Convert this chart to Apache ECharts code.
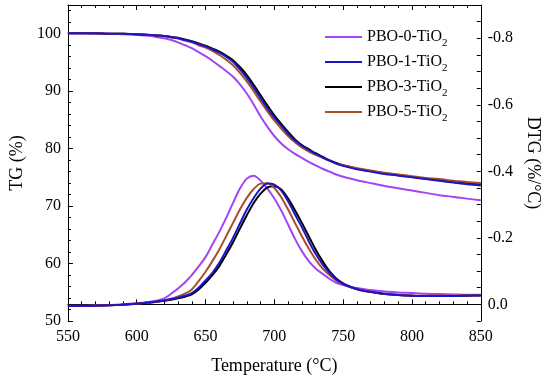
<!DOCTYPE html>
<html>
<head>
<meta charset="utf-8">
<script src="https://cdn.jsdelivr.net/npm/echarts@6/dist/echarts.min.js"></script>
<style>html,body{margin:0;padding:0;background:#fff}#c{width:550px;height:380px}</style>
</head>
<body>
<div id="c"></div>
<script>
var temps = [550,560,570,580,590,600,605,610,615,620,625,630,635,640,645,650,655,660,665,670,675,680,685,690,695,700,705,710,715,720,725,730,735,740,745,750,755,760,765,770,775,780,790,800,810,820,830,840,850];

var tg0 = [100.1,100.1,100.0,100.0,99.9, 99.8,99.7,99.6,99.4,99.2,98.9,98.5, 98.0,97.5,96.8,96.1,95.3,94.4,93.5,92.5,91.2,89.6,87.7,85.6,83.8,82.2,80.9,79.9,79.1,78.4,77.7,77.1,76.5,76.0,75.5, 75.1,74.8,74.5,74.25,74.0,73.75,73.5, 73.1,72.7,72.3,71.9,71.6,71.3,71.0];
var tg1 = [100.1,100.1,100.1,100.0,100.0, 99.9,99.85,99.8,99.7,99.6,99.4,99.2, 98.9,98.6,98.2,97.8,97.3,96.7,96.0,95.1,93.8,92.3,90.6,88.8,87.0,85.4,84.0,82.6,81.4,80.5,79.8,79.1,78.5,77.9,77.4, 77.0,76.7,76.4,76.2,76.0,75.8,75.6, 75.3,75.0,74.7,74.4,74.1,73.8,73.6];
var tg3 = [100.1,100.1,100.1,100.0,100.0, 99.9,99.85,99.8,99.7,99.6,99.45,99.3, 99.0,98.7,98.3,97.9,97.4,96.9,96.2,95.4,94.2,92.8,91.1,89.3,87.5,85.8,84.3,82.9,81.6,80.6,79.9,79.2,78.6,78.0,77.5, 77.1,76.8,76.5,76.3,76.1,75.9,75.7, 75.4,75.1,74.8,74.5,74.2,74.0,73.8];
var tg5 = [100.1,100.1,100.1,100.0,100.0, 99.9,99.85,99.8,99.7,99.6,99.4,99.2, 98.8,98.5,98.0,97.6,97.0,96.3,95.5,94.5,93.2,91.7,90.0,88.2,86.5,84.9,83.5,82.2,81.1,80.2,79.5,78.9,78.4,77.9,77.4, 77.1,76.85,76.6,76.4,76.2,76.0,75.8, 75.5,75.2,74.9,74.7,74.4,74.2,74.0];

var dtg0 = [0.004,0.004,0.003,0.002,0.000, -0.003,-0.005,-0.008,-0.012,-0.018,-0.032,-0.048, -0.066,-0.088,-0.114,-0.142,-0.18,-0.218,-0.26,-0.305,-0.348,-0.378,-0.387,-0.372,-0.348,-0.318,-0.282,-0.24,-0.197,-0.16,-0.13,-0.108,-0.092,-0.077,-0.065, -0.058,-0.053,-0.049,-0.046,-0.043,-0.041,-0.039, -0.036,-0.034,-0.032,-0.031,-0.03,-0.029,-0.029];
var dtg1 = [0.005,0.005,0.004,0.003,0.001, -0.002,-0.004,-0.006,-0.009,-0.012,-0.016,-0.02, -0.026,-0.034,-0.05,-0.072,-0.095,-0.125,-0.162,-0.2,-0.243,-0.285,-0.32,-0.348,-0.363,-0.36,-0.342,-0.31,-0.27,-0.232,-0.19,-0.152,-0.12,-0.095,-0.075, -0.062,-0.053,-0.046,-0.041,-0.038,-0.035,-0.032, -0.028,-0.026,-0.025,-0.025,-0.025,-0.026,-0.027];
var dtg3 = [0.005,0.005,0.004,0.003,0.001, -0.002,-0.004,-0.006,-0.008,-0.011,-0.014,-0.018, -0.023,-0.03,-0.045,-0.065,-0.088,-0.115,-0.15,-0.187,-0.228,-0.268,-0.305,-0.333,-0.352,-0.355,-0.345,-0.318,-0.283,-0.245,-0.205,-0.165,-0.13,-0.1,-0.078, -0.063,-0.053,-0.045,-0.040,-0.037,-0.034,-0.031, -0.028,-0.026,-0.025,-0.025,-0.025,-0.026,-0.027];
var dtg5 = [0.005,0.005,0.004,0.003,0.001, -0.002,-0.004,-0.006,-0.009,-0.012,-0.017,-0.024, -0.032,-0.045,-0.07,-0.098,-0.13,-0.165,-0.205,-0.245,-0.285,-0.32,-0.347,-0.363,-0.364,-0.35,-0.322,-0.285,-0.245,-0.205,-0.168,-0.135,-0.108,-0.088,-0.072, -0.06,-0.052,-0.046,-0.041,-0.038,-0.035,-0.032, -0.029,-0.027,-0.026,-0.026,-0.026,-0.027,-0.028];

var names = ['PBO-0-TiO2','PBO-1-TiO2','PBO-3-TiO2','PBO-5-TiO2'];
var colors = ['#a445f5','#1c14c8','#000000','#a8502c'];
var xTicks = [550,600,650,700,750,800,850];
var dtgLabels = [-0.8,-0.6,-0.4,-0.2,0];

function pairs(y){ return temps.map(function(t,i){ return [t,y[i]]; }); }
var FONT = 'Liberation Serif';
var tgData = [tg0,tg1,tg3,tg5];
var dtgData = [dtg0,dtg1,dtg3,dtg5];
var order = [0,2,3,1];
var series = [];
order.forEach(function(k){
  series.push({name:names[k],type:'line',xAxisIndex:0,yAxisIndex:0,data:pairs(tgData[k]),smooth:0.3,symbol:'none',lineStyle:{color:colors[k],width:2},itemStyle:{color:colors[k]},z:2});
  series.push({name:names[k],type:'line',xAxisIndex:0,yAxisIndex:1,data:pairs(dtgData[k]),smooth:0.3,symbol:'none',lineStyle:{color:colors[k],width:2},itemStyle:{color:colors[k]},z:2});
});

var axisCommon = {
  axisLine:{show:true,lineStyle:{color:'#000',width:1}},
  splitLine:{show:false}
};
var chart = echarts.init(document.getElementById('c'),null,{renderer:'canvas'});
chart.setOption({
  animation:false,
  backgroundColor:'#fff',
  grid:{left:57,right:66,top:5,bottom:58,containLabel:false},
  legend:{
    orient:'vertical',left:320,top:24,
    data:names,
    icon:'rect',
    itemWidth:37,itemHeight:2,itemGap:5,
    formatter:function(n){ return '{n|'+n.replace('TiO2','TiO')+'}{s|2}'; },
    textStyle:{fontFamily:FONT,fontSize:16,color:'#000',
      rich:{n:{fontFamily:FONT,fontSize:16,color:'#000',lineHeight:24,verticalAlign:'middle'},
            s:{fontFamily:FONT,fontSize:11,color:'#000',lineHeight:7,verticalAlign:'bottom'}}}
  },
  xAxis:[
    Object.assign({},axisCommon,{type:'value',position:'bottom',min:550,max:850,interval:50,
      name:'Temperature (°C)',nameLocation:'middle',nameGap:36,
      nameTextStyle:{fontFamily:FONT,fontSize:18,color:'#000'},
      axisTick:{show:true,inside:true,length:5,lineStyle:{color:'#000'}},
      minorTick:{show:true,splitNumber:5,length:3,lineStyle:{color:'#000'}},
      axisLabel:{fontFamily:FONT,fontSize:16,color:'#000',margin:8,customValues:xTicks}}),
    Object.assign({},axisCommon,{type:'value',position:'top',min:550,max:850,interval:50,
      axisTick:{show:true,inside:true,length:5,lineStyle:{color:'#000'}},
      minorTick:{show:true,splitNumber:5,length:3,lineStyle:{color:'#000'}},
      axisLabel:{show:false}})
  ],
  yAxis:[
    Object.assign({},axisCommon,{type:'value',position:'left',min:50,max:105,interval:10,
      name:'TG (%)',nameLocation:'middle',nameGap:37,nameRotate:90,
      nameTextStyle:{fontFamily:FONT,fontSize:18,color:'#000'},
      axisTick:{show:true,inside:true,length:5,lineStyle:{color:'#000'}},
      minorTick:{show:true,splitNumber:5,length:3,lineStyle:{color:'#000'}},
      axisLabel:{fontFamily:FONT,fontSize:16,color:'#000',margin:7,showMaxLabel:false}}),
    Object.assign({},axisCommon,{type:'value',position:'right',inverse:true,min:-0.9,max:0.05,interval:0.05,
      name:'DTG (%/°C)',nameLocation:'middle',nameGap:40,nameRotate:-90,
      nameTextStyle:{fontFamily:FONT,fontSize:18,color:'#000'},
      axisTick:{show:true,inside:true,length:4,lineStyle:{color:'#000'}},
      axisLabel:{fontFamily:FONT,fontSize:16,color:'#000',margin:7,customValues:dtgLabels,
        formatter:function(v){ return (Math.abs(v)<1e-9?0:v).toFixed(1); }}})
  ],
  series:series
});
</script>
</body>
</html>
